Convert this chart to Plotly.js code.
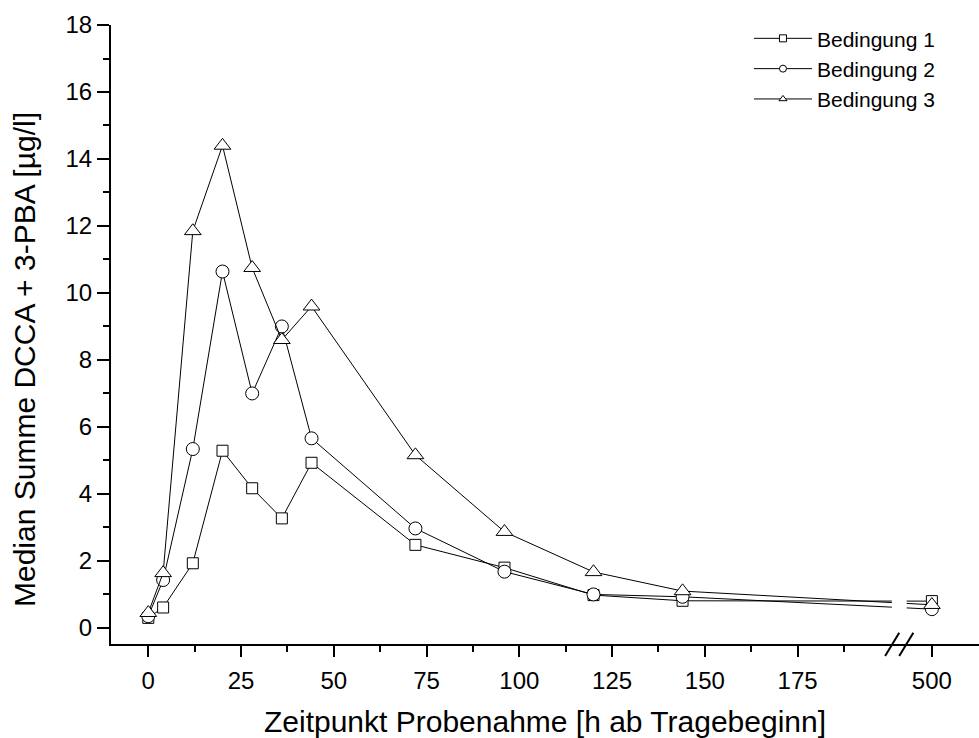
<!DOCTYPE html>
<html>
<head>
<meta charset="utf-8">
<script src="https://cdn.plot.ly/plotly-3.0.1.min.js"></script>
<style>html,body{margin:0;padding:0;background:#fff;}#chart{width:979px;height:738px;}</style>
</head>
<body>
<div id="chart"></div>
<script>
// Data (hours after start of wearing, median sum DCCA + 3-PBA in µg/l)
const hours = [0, 4, 12, 20, 28, 36, 44, 72, 96, 120, 144, 500];
const bedingung1 = [0.3, 0.61, 1.93, 5.29, 4.17, 3.27, 4.93, 2.48, 1.8, 0.98, 0.81, 0.8];
const bedingung2 = [0.35, 1.43, 5.34, 10.64, 7.0, 9.0, 5.66, 2.97, 1.68, 1.0, 0.93, 0.56];
const bedingung3 = [0.45, 1.64, 11.85, 14.4, 10.75, 8.6, 9.6, 5.16, 2.87, 1.67, 1.1, 0.69];
const seriesNames = ['Bedingung 1', 'Bedingung 2', 'Bedingung 3'];
const xTickHours = [0, 25, 50, 75, 100, 125, 150, 175, 500];
const xTickLabels = ['0', '25', '50', '75', '100', '125', '150', '175', '500'];
const xMinorHours = [12.5, 37.5, 62.5, 87.5, 112.5, 137.5, 162.5, 187.5];

// Broken x axis: values up to the break are drawn linearly,
// the later segment (around 500 h) is shifted next to the break.
const BREAK_START = 200;
const SEG2_ORIGIN = 500;
const SEG2_POS = 211.2;
function axisPos(h) { return h <= BREAK_START ? h : SEG2_POS + (h - SEG2_ORIGIN); }

const xs = hours.map(axisPos);
const FONT = 'Liberation Sans, Arial, Helvetica, sans-serif';

function trace(y, symbol, size, name) {
  return {
    x: xs, y: y, name: name, type: 'scatter', mode: 'lines+markers',
    showlegend: false, cliponaxis: false,
    line: {color: '#000', width: 1},
    marker: {symbol: symbol, size: size, color: '#fff', line: {color: '#000', width: 1}}
  };
}
function legendTrace(symbol, name) {
  return {
    x: [null], y: [null], name: name, type: 'scatter', mode: 'lines+markers',
    line: {color: '#000', width: 1},
    marker: {symbol: symbol, size: 7, color: '#fff', line: {color: '#000', width: 1}}
  };
}

const data = [
  trace(bedingung1, 'square', 11, seriesNames[0]),
  trace(bedingung2, 'circle', 13, seriesNames[1]),
  trace(bedingung3, 'triangle-up', 14.5, seriesNames[2]),
  legendTrace('square', seriesNames[0]),
  legendTrace('circle', seriesNames[1]),
  legendTrace('triangle-up', seriesNames[2])
];

const breakA = BREAK_START - 1.4, breakB = BREAK_START + 2.4, breakC = BREAK_START + 6.2;
const shapes = [
  // gap in the connecting lines at the axis break
  {type: 'rect', xref: 'x', yref: 'y', x0: BREAK_START + 0.4, x1: BREAK_START + 4.4, y0: 0.45, y1: 1.15,
   fillcolor: '#fff', line: {width: 0}, layer: 'above'},
  // break marks on the x axis
  {type: 'line', xref: 'x', yref: 'paper', x0: breakA, x1: breakB, y0: -0.0194, y1: 0.0183,
   line: {color: '#000', width: 2}, layer: 'above'},
  {type: 'line', xref: 'x', yref: 'paper', x0: breakB, x1: breakC, y0: -0.0194, y1: 0.0183,
   line: {color: '#000', width: 2}, layer: 'above'}
];

const NB = '\u00a0';
const yTitle = 'Median Summe DCCA + 3-PBA [µg/l]<span>' + NB.repeat(6) + '</span>';

const layout = {
  width: 979, height: 738,
  margin: {l: 111, r: 0, t: 25, b: 94},
  paper_bgcolor: '#fff', plot_bgcolor: '#fff',
  font: {family: FONT, color: '#000', size: 22},
  showlegend: true,
  legend: {
    x: 0.735, y: 1.011, xanchor: 'left', yanchor: 'top',
    font: {family: FONT, size: 21, color: '#000'},
    itemwidth: 58, tracegroupgap: 0, bgcolor: 'rgba(0,0,0,0)', borderwidth: 0
  },
  xaxis: {
    range: [-10.05, 223.9],
    tickmode: 'array',
    tickvals: xTickHours.map(axisPos),
    ticktext: xTickLabels,
    ticks: 'outside', ticklen: 11, tickwidth: 2, tickcolor: '#000',
    minor: {tickmode: 'array', tickvals: xMinorHours.map(axisPos), ticks: 'outside', ticklen: 6, tickwidth: 2, tickcolor: '#000', showgrid: false},
    showline: true, linewidth: 2, linecolor: '#000',
    showgrid: false, zeroline: false,
    ticklabelstandoff: 3,
    tickfont: {family: FONT, size: 24, color: '#000'},
    title: {text: 'Zeitpunkt Probenahme [h ab Tragebeginn]', font: {family: FONT, size: 30, color: '#000'}, standoff: 20}
  },
  yaxis: {
    range: [-0.48, 18],
    tickmode: 'linear', tick0: 0, dtick: 2,
    ticks: 'outside', ticklen: 12, tickwidth: 2, tickcolor: '#000',
    minor: {dtick: 1, tick0: 0, ticks: 'outside', ticklen: 6, tickwidth: 2, tickcolor: '#000', showgrid: false},
    showline: true, linewidth: 2, linecolor: '#000',
    showgrid: false, zeroline: false,
    tickfont: {family: FONT, size: 24, color: '#000'},
    title: {text: yTitle, font: {family: FONT, size: 30, color: '#000'}, standoff: 21}
  },
  shapes: shapes
};

Plotly.newPlot('chart', data, layout, {staticPlot: true, displayModeBar: false});
</script>
</body>
</html>
